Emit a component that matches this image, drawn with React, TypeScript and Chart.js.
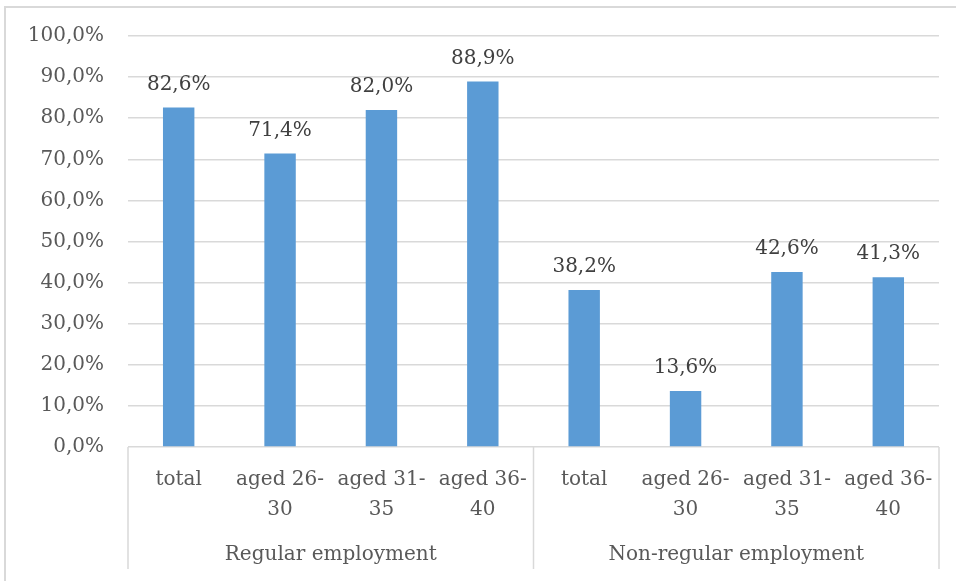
import React, { useEffect, useRef } from "react";
import { Chart, registerables } from "chart.js";

Chart.register(...registerables);

// Tick labels along the category axis (multi-line where they wrap)
const categoryLabels: string[][] = [
  ["total"],
  ["aged 26-", "30"],
  ["aged 31-", "35"],
  ["aged 36-", "40"],
  ["total"],
  ["aged 26-", "30"],
  ["aged 31-", "35"],
  ["aged 36-", "40"],
];

// Outer grouping of the categories
const groupNames = ["Regular employment", "Non-regular employment"];
const groupSizes = [4, 4];

// Share in percent
const shares = [82.6, 71.4, 82.0, 88.9, 38.2, 13.6, 42.6, 41.3];

const FONT = "'DejaVu Serif', 'Liberation Serif', serif";
const FONT_SIZE = 20;
const AXIS_TEXT = "#595959";
const LABEL_TEXT = "#404040";
const GRID = "#d9d9d9";
const BAR = "#5b9bd5";

const fmt = (v: number) => v.toFixed(1).replace(".", ",") + "%";

const framePlugin = {
  id: "frame",
  beforeDraw(chart: any) {
    const { ctx, width, height } = chart;
    ctx.save();
    ctx.fillStyle = "#ffffff";
    ctx.fillRect(0, 0, width, height);
    ctx.strokeStyle = GRID;
    ctx.lineWidth = 2;
    ctx.beginPath();
    ctx.moveTo(width, 7);
    ctx.lineTo(5, 7);
    ctx.lineTo(5, height);
    ctx.stroke();
    ctx.restore();
  },
};

const valueLabelPlugin = {
  id: "valueLabels",
  afterDatasetsDraw(chart: any) {
    const { ctx } = chart;
    const meta = chart.getDatasetMeta(0);
    ctx.save();
    ctx.font = `${FONT_SIZE}px ${FONT}`;
    ctx.fillStyle = LABEL_TEXT;
    ctx.textAlign = "center";
    ctx.textBaseline = "middle";
    meta.data.forEach((bar: any, i: number) => {
      ctx.fillText(fmt(shares[i]), bar.x, bar.y - 23);
    });
    ctx.restore();
  },
};

const groupAxisPlugin = {
  id: "groupAxis",
  afterDraw(chart: any) {
    const { ctx, chartArea } = chart;
    const xs = chart.scales.x;
    const bottom = chartArea.bottom;
    const lineEnd = 569;
    const bounds: number[] = [chartArea.left];
    let idx = 0;
    groupSizes.forEach((n, g) => {
      idx += n;
      if (g < groupSizes.length - 1) {
        bounds.push((xs.getPixelForValue(idx - 1) + xs.getPixelForValue(idx)) / 2);
      }
    });
    bounds.push(chartArea.right);

    ctx.save();
    ctx.strokeStyle = GRID;
    ctx.lineWidth = 1.5;
    bounds.forEach((bx) => {
      ctx.beginPath();
      ctx.moveTo(bx, bottom);
      ctx.lineTo(bx, lineEnd);
      ctx.stroke();
    });
    ctx.font = `${FONT_SIZE}px ${FONT}`;
    ctx.fillStyle = AXIS_TEXT;
    ctx.textAlign = "center";
    ctx.textBaseline = "middle";
    groupNames.forEach((name, g) => {
      ctx.fillText(name, (bounds[g] + bounds[g + 1]) / 2, 555);
    });
    ctx.restore();
  },
};

export default function App() {
  const canvasRef = useRef<HTMLCanvasElement>(null);

  useEffect(() => {
    if (!canvasRef.current) return;
    const chart = new Chart(canvasRef.current, {
      type: "bar",
      data: {
        labels: categoryLabels,
        datasets: [
          {
            data: shares,
            backgroundColor: BAR,
            borderWidth: 0,
            barPercentage: 0.31,
            categoryPercentage: 1,
          },
        ],
      },
      options: {
        animation: false,
        responsive: false,
        devicePixelRatio: 1,
        layout: { padding: { top: 36, right: 17, left: 0, bottom: 0 } },
        plugins: {
          legend: { display: false },
          tooltip: { enabled: false },
          title: { display: false },
        },
        scales: {
          x: {
            grid: { display: false, drawTicks: false },
            border: { display: false },
            afterFit: (s: any) => {
              s.height = 134;
            },
            ticks: {
              autoSkip: false,
              maxRotation: 0,
              minRotation: 0,
              padding: 18,
              color: AXIS_TEXT,
              font: { family: FONT, size: FONT_SIZE, lineHeight: 1.5 },
            },
          },
          y: {
            min: 0,
            max: 100,
            afterFit: (s: any) => {
              s.width = 128;
            },
            grid: { color: GRID, lineWidth: 1.5, drawTicks: false },
            border: { display: false },
            ticks: {
              stepSize: 10,
              padding: 24,
              color: AXIS_TEXT,
              font: { family: FONT, size: FONT_SIZE },
              callback: (v: any) => fmt(Number(v)),
            },
          },
        },
      },
      plugins: [framePlugin, valueLabelPlugin, groupAxisPlugin],
    });
    return () => chart.destroy();
  }, []);

  return (
    <div style={{ position: "fixed", left: 0, top: 0, width: 956, height: 581, background: "#fff" }}>
      <canvas ref={canvasRef} width={956} height={581} style={{ display: "block" }} />
    </div>
  );
}
